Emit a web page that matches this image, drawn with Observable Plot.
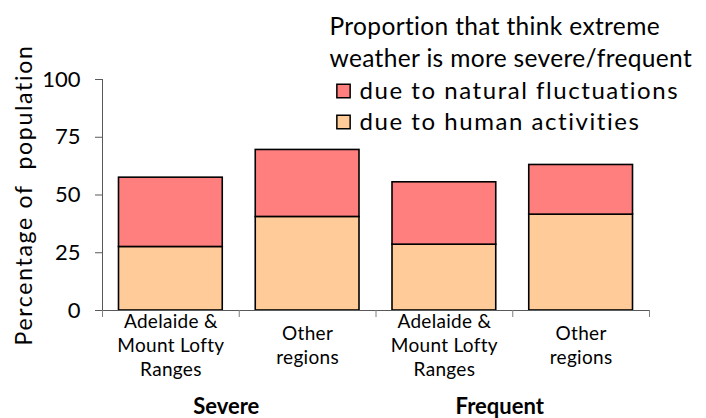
<!DOCTYPE html>
<html>
<head>
<meta charset="utf-8">
<script src="https://cdn.jsdelivr.net/npm/d3@7"></script>
<script src="https://cdn.jsdelivr.net/npm/@observablehq/plot@0.6"></script>
<style>
  html, body { margin: 0; padding: 0; background: #fff; }
  #chart svg { display: block; }
</style>
</head>
<body>
<div id="chart"></div>
<script>
const categories = ["Adelaide &\nMount Lofty\nRanges", "Other\nregions", "Adelaide &\nMount Lofty\nRanges", "Other\nregions"];
const groupNames = ["Severe", "Frequent"];
const human = [27.5, 40.5, 28.5, 41.5];
const natural = [30, 29, 27, 21.5];
const seriesNames = ["due to natural fluctuations", "due to human activities"];
const seriesColors = ["#FF7F7F", "#FFCC99"];
const yTicks = [0, 25, 50, 75, 100];
const legendTitle = "Proportion that think extreme\nweather is more severe/frequent";
const yLabel = "Percentage of  population";

const FONT = "Lato, 'Open Sans', sans-serif";

const rows = [];
categories.forEach((c, i) => {
  rows.push({i, series: seriesNames[1], y1: 0, y2: human[i]});
  rows.push({i, series: seriesNames[0], y1: human[i], y2: human[i] + natural[i]});
});
const bounds = d3.range(categories.length + 1);

const chart = Plot.plot({
  width: 706,
  height: 418,
  marginLeft: 102,
  marginRight: 57,
  marginTop: 79,
  marginBottom: 108,
  style: {fontFamily: FONT, color: "#000", background: "#fff"},
  x: {domain: [0, categories.length], axis: null},
  y: {domain: [0, 100], axis: null},
  color: {domain: seriesNames, range: seriesColors},
  marks: [
    Plot.rect(rows, {x1: d => d.i, x2: d => d.i + 1, y1: "y1", y2: "y2", fill: "series",
      stroke: "#000", strokeWidth: 1.6, insetLeft: 16.5, insetRight: 16.5}),
    Plot.ruleY([0], {stroke: "#595959", strokeWidth: 1}),
    Plot.ruleX([0], {y1: 0, y2: 100, stroke: "#595959", strokeWidth: 1}),
    Plot.axisY({ticks: yTicks, tickSize: 7, tickPadding: 15, fontSize: 22, label: null, stroke: "#595959"}),
    Plot.axisX({ticks: bounds, tickSize: 7, tickFormat: () => "", label: null, stroke: "#7f7f7f"}),
    Plot.text(categories, {x: (d, i) => i + 0.5, y: 0, dy: 34, text: d => d, lineAnchor: "middle",
      lineHeight: 24 / 19, fontSize: 19, fill: "#000", ariaDescription: "cat-labels"}),
    Plot.text(groupNames, {x: (d, i) => i * 2 + 1, y: 0, dx: -13, dy: 96, text: d => d,
      fontWeight: "bold", fontSize: 22, lineAnchor: "middle", fill: "#000"}),
    Plot.text([yLabel], {frameAnchor: "left", dx: -78, rotate: -90, textAnchor: "middle",
      fontSize: 23, fill: "#000", ariaDescription: "y-label"}),
    Plot.text([legendTitle], {frameAnchor: "top-left", dx: 227, dy: -67.5, textAnchor: "start",
      lineAnchor: "top", lineHeight: 32 / 24.5, fontSize: 24.5, fill: "#000", ariaDescription: "legend-title"}),
    Plot.dot([seriesNames[0]], {frameAnchor: "top-left", dx: 241, dy: 11.5, symbol: "square", r: 7.5,
      fill: seriesColors[0], stroke: "#000", strokeWidth: 1.5}),
    Plot.dot([seriesNames[1]], {frameAnchor: "top-left", dx: 241, dy: 42.5, symbol: "square", r: 7.5,
      fill: seriesColors[1], stroke: "#000", strokeWidth: 1.5}),
    Plot.text([seriesNames.join("\n")], {frameAnchor: "top-left", dx: 257, dy: -2.5, textAnchor: "start",
      lineAnchor: "top", lineHeight: 31 / 24, fontSize: 24, fill: "#000", ariaDescription: "legend-labels"})
  ]
});
// letter spacing to match the reference's wide type
const svg = d3.select(chart);
svg.select('[aria-description="legend-labels"]').attr("letter-spacing", "1.55px");
svg.select('[aria-description="legend-title"]').attr("letter-spacing", "0.35px");
svg.select('[aria-description="y-label"]').attr("letter-spacing", "1.7px");
svg.select('[aria-description="cat-labels"]').attr("letter-spacing", "0.3px");
document.getElementById("chart").appendChild(chart);
</script>
</body>
</html>
